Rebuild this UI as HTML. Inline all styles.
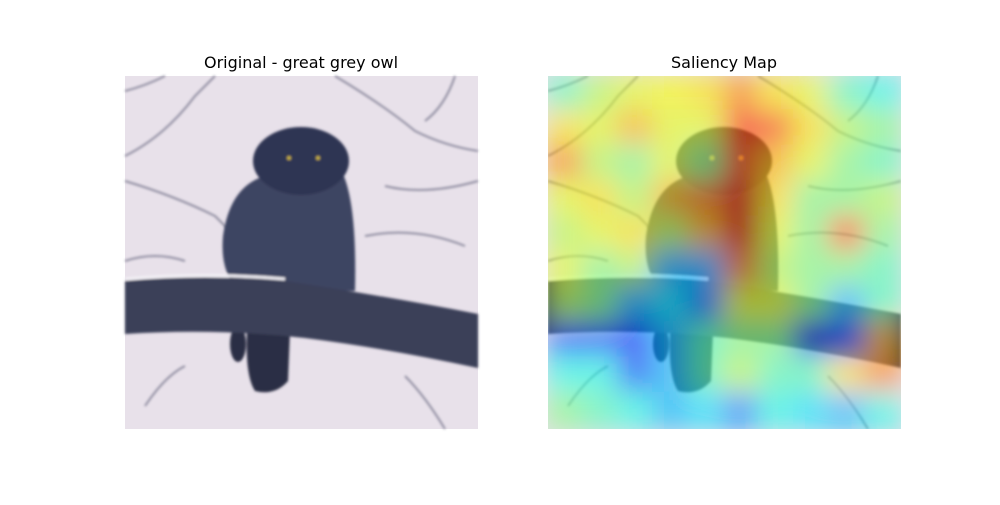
<!DOCTYPE html>
<html><head><meta charset="utf-8"><style>
body{margin:0;background:#fff;width:1000px;height:500px;overflow:hidden}
text{font-family:"DejaVu Sans","Liberation Sans",sans-serif}
</style></head><body>
<svg width="1000" height="500">
<defs>
<clipPath id="c1"><rect x="0" y="0" width="353" height="353"/></clipPath>
<filter id="bl" x="-20%" y="-20%" width="140%" height="140%"><feGaussianBlur stdDeviation="13"/></filter>
<filter id="sb"><feGaussianBlur stdDeviation="1.2"/></filter>
<g id="scene">
<rect x="0" y="0" width="353" height="353" fill="#e8e1ea"/>
<g stroke="#4a4c66" fill="none" stroke-width="2" opacity="0.55" filter="url(#sb)">
<path d="M210 0 Q260 30 290 55 Q320 70 353 75"/>
<path d="M0 80 Q40 60 70 20 L90 0"/>
<path d="M0 105 Q50 120 90 140 Q100 150 110 160"/>
<path d="M260 110 Q300 120 353 105"/>
<path d="M0 15 Q20 10 40 0"/>
<path d="M330 0 Q320 30 300 45"/>
<path d="M240 160 Q290 150 340 170"/>
<path d="M20 330 Q40 300 60 290"/>
<path d="M280 300 Q300 320 320 353"/>
<path d="M0 185 Q30 175 60 185"/>
</g>
<g filter="url(#sb)">
<path d="M122 255 L165 255 L163 305 Q150 320 130 315 Q120 300 122 255Z" fill="#2b2f45"/>
<ellipse cx="113" cy="268" rx="8" ry="18" fill="#2b2f45"/>
<path d="M98 160 Q105 110 140 100 L218 98 Q232 130 230 215 L112 212 Q95 195 98 160Z" fill="#3d4462"/>
<ellipse cx="176" cy="85" rx="48" ry="34" fill="#2f3552"/>
<path d="M0 205 Q80 198 160 205 Q260 220 353 238 L353 292 Q260 272 180 262 Q90 252 0 258Z" fill="#3b3f58"/>
<path d="M0 203 Q80 196 160 203" stroke="#f2f0f5" stroke-width="3" fill="none"/>
<circle cx="164" cy="82" r="2" fill="#c8b040"/><circle cx="193" cy="82" r="2" fill="#c8b040"/>
</g>
</g>
</defs>
<text x="301" y="68" text-anchor="middle" font-size="16">Original - great grey owl</text>
<text x="724" y="68" text-anchor="middle" font-size="16">Saliency Map</text>
<g transform="translate(125,76)"><use href="#scene"/></g>
<g transform="translate(548,76)" clip-path="url(#c1)">
<use href="#scene"/>
<g id="heat" opacity="0.62" filter="url(#bl)"></g>
</g>
</svg>
<script>
const gridRows = [
[.45,.55,.6,.62,.65,.75,.65,.6,.45,.4],
[.65,.6,.7,.6,.6,.85,.8,.65,.55,.5],
[.75,.55,.5,.6,.5,.8,.7,.6,.5,.45],
[.6,.65,.55,.7,.75,.9,.65,.5,.5,.55],
[.55,.6,.65,.55,.7,.9,.6,.5,.8,.5],
[.6,.5,.55,.3,.3,.75,.55,.5,.5,.45],
[.55,.5,.3,.35,.25,.6,.6,.5,.3,.45],
[.2,.2,.15,.3,.45,.5,.5,.1,.2,.7],
[.4,.4,.2,.3,.45,.55,.45,.45,.65,.75],
[.5,.45,.4,.3,.35,.25,.4,.35,.3,.4]
];
function jet(v){
  const r=Math.max(0,Math.min(1,1.5-Math.abs(4*v-3)));
  const g=Math.max(0,Math.min(1,1.5-Math.abs(4*v-2)));
  const b=Math.max(0,Math.min(1,1.5-Math.abs(4*v-1)));
  return `rgb(${Math.round(r*255)},${Math.round(g*255)},${Math.round(b*255)})`;
}
const heat=document.getElementById('heat');
const n=gridRows.length, cs=353/n;
const xScale=i=>i*cs-2, yScale=j=>j*cs-2;
gridRows.forEach((row,j)=>row.forEach((v,i)=>{
  const r=document.createElementNS('http://www.w3.org/2000/svg','rect');
  r.setAttribute('x',xScale(i));r.setAttribute('y',yScale(j));
  r.setAttribute('width',cs+4);r.setAttribute('height',cs+4);
  r.setAttribute('fill',jet(v));
  
  
  heat.appendChild(r);
}));
</script>
</body></html>
